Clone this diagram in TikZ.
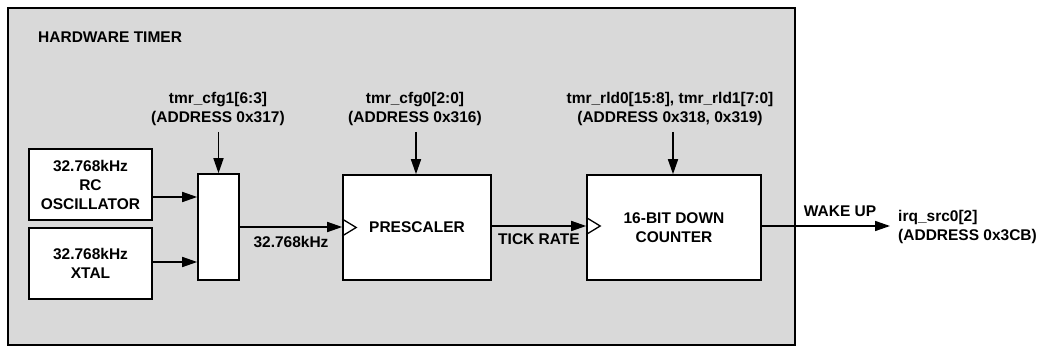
\documentclass[tikz,border=0pt]{standalone}
\usepackage{fontspec}
\setmainfont{Liberation Sans}
\usetikzlibrary{arrows.meta,calc}
\definecolor{bggray}{RGB}{217,217,217}
\begin{document}
\begin{tikzpicture}[x=1pt,y=-1pt,
  every node/.style={font=\fontsize{15.5}{19}\selectfont\bfseries, inner sep=0pt, align=center},
  blk/.style={draw, line width=1.6pt, fill=white},
  arr/.style={line width=1.6pt, -{Triangle[length=15pt,width=10pt]}},
  clk/.style={line width=1.3pt}]
\useasboundingbox (0,0) rectangle (1042,352);
\fill[white] (0,0) rectangle (1042,352);
\draw[line width=2.6pt, fill=bggray] (8,8) rectangle (795,345);
\node[anchor=west] (title) at (38,37) {HARDWARE TIMER};

\node[blk, minimum width=123pt, minimum height=71pt] (osc) at (90.5,184.5) {32.768kHz\\RC\\OSCILLATOR};
\node[blk, minimum width=123pt, minimum height=71pt] (xtal) at (90.5,263.5) {32.768kHz\\XTAL};
\node[blk, minimum width=41pt, minimum height=106pt] (mux) at (218.5,227) {};
\node[blk, minimum width=148pt, minimum height=105pt] (pre) at (417,227.5) {PRESCALER};
\node[blk, minimum width=174pt, minimum height=105pt] (cnt) at (674,227.5) {16-BIT DOWN\\COUNTER};

\node (cfg1) at (218,108.5) {tmr\_cfg1[6:3]\\(ADDRESS 0x317)};
\node (cfg0) at (415,108.5) {tmr\_cfg0[2:0]\\(ADDRESS 0x316)};
\node (rld) at (670,108.5) {tmr\_rld0[15:8], tmr\_rld1[7:0]\\(ADDRESS 0x318, 0x319)};

\draw[arr] ([yshift=-12.5pt]osc.east) -- ([yshift=-12.5pt]osc.east -| mux.west);
\draw[arr] ([yshift=1.5pt]xtal.east) -- ([yshift=1.5pt]xtal.east -| mux.west);
\draw[arr] (mux.east) -- (mux.east -| pre.west) node[midway, below=8pt] (f) {32.768kHz};
\draw[arr] ([yshift=1.5pt]pre.east) -- ([yshift=1.5pt]pre.east -| cnt.west) node[midway, below=7pt] (tick) {TICK RATE};

\draw[arr] (mux.north |- 0,132) -- (mux.north);
\draw[arr] ([xshift=-1pt]pre.north |- 0,132) -- ([xshift=-1pt]pre.north);
\draw[arr] ([xshift=-1pt]cnt.north |- 0,132) -- ([xshift=-1pt]cnt.north);

\coordinate (out) at (890,226);
\draw[arr] ([yshift=1.5pt]cnt.east) -- (out);
\node (wake) at (840,211) {WAKE UP};
\node[anchor=west, align=left] (irq) at (898,227) {irq\_src0[2]\\(ADDRESS 0x3CB)};

\draw[clk] ([yshift=8.5pt]pre.west) -- ([xshift=14pt]pre.west) -- ([yshift=-8.5pt]pre.west);
\draw[clk] ([yshift=10pt]cnt.west) -- ([xshift=14pt,yshift=1.5pt]cnt.west) -- ([yshift=-7pt]cnt.west);
\end{tikzpicture}
\end{document}
